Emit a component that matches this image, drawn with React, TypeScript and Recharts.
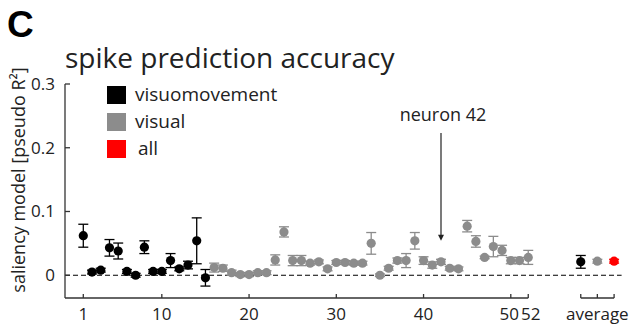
import { ScatterChart, Scatter, XAxis, YAxis, ErrorBar, ReferenceLine } from "recharts";

// visuomovement neurons 1-15
const vmMean = [0.062, 0.005, 0.008, 0.043, 0.038, 0.006, 0.0, 0.044, 0.006, 0.006, 0.023, 0.01, 0.016, 0.054, -0.004];
const vmErr = [0.018, 0.003, 0.003, 0.013, 0.0125, 0.003, 0.003, 0.01, 0.003, 0.003, 0.011, 0.003, 0.006, 0.036, 0.013];

// visual neurons 16-52
const visMean = [
  0.012, 0.011, 0.004, 0.001, 0.001, 0.004, 0.004, 0.024, 0.068, 0.023, 0.023, 0.019, 0.021, 0.01, 0.02, 0.02,
  0.019, 0.019, 0.05, 0.0, 0.011, 0.023, 0.023, 0.054, 0.023, 0.016, 0.021, 0.011, 0.01, 0.077, 0.053, 0.028,
  0.045, 0.039, 0.023, 0.023, 0.028,
];
const visErr = [
  0.007, 0.005, 0.004, 0.003, 0.003, 0.003, 0.003, 0.008, 0.008, 0.008, 0.008, 0.003, 0.003, 0.003, 0.003, 0.003,
  0.003, 0.003, 0.017, 0.002, 0.003, 0.004, 0.011, 0.013, 0.006, 0.005, 0.004, 0.003, 0.003, 0.009, 0.009, 0.002,
  0.016, 0.008, 0.005, 0.005, 0.011,
];

// averages: visuomovement, visual, all
const avgMean = [0.021, 0.022, 0.022];
const avgErr = [0.01, 0.003, 0.003];
const avgPos = [58.02, 59.92, 61.84];

const xTicks = [1, 10, 20, 30, 40, 50, 52];
const yTicks = [0, 0.1, 0.2, 0.3];

const X_MIN = -1.097;
const X_MAX = 63.09;
const Y_MIN = -0.0357;
const Y_MAX = 0.3;

const AXIS = "#333";
const GRAY = "#8c8c8c";
const RED = "#ff0000";
const FONT = "'Open Sans', sans-serif";

const vmData = vmMean.map((v, i) => ({ n: i + 1, v, err: vmErr[i] }));
const visData = visMean.map((v, i) => ({ n: i + 16, v, err: visErr[i] }));
const avgData = avgMean.map((v, i) => ({ n: avgPos[i], v, err: avgErr[i] }));

const dot = (fill: string) => (p: any) => <circle cx={p.cx} cy={p.cy} r={4.6} fill={fill} />;

function XTick({ x, y, payload }: any) {
  const v = payload.value;
  let label = "";
  if (xTicks.includes(v)) label = String(v);
  else if (v === avgPos[1]) label = "average";
  // 50 and 52 sit close together, nudge them apart a bit
  const dx = v === 50 ? -1.5 : v === 52 ? 2.5 : 0;
  return (
    <g>
      <line x1={x} x2={x} y1={y} y2={y - 4} stroke={AXIS} strokeWidth={1.3} />
      {label && (
        <text x={x + dx} y={y + 22} textAnchor="middle" fontSize={17} fontFamily={FONT} fill="#222">
          {label}
        </text>
      )}
    </g>
  );
}

function YTick({ x, y, payload }: any) {
  const v = payload.value;
  return (
    <g>
      <line x1={x} x2={x + 5} y1={y} y2={y} stroke={AXIS} strokeWidth={1.3} />
      <text x={x - 10} y={y + 6} textAnchor="end" fontSize={17} fontFamily={FONT} fill="#222">
        {v === 0 ? "0" : v.toFixed(1)}
      </text>
    </g>
  );
}

function Arrow(p: any) {
  const { x1, y1, x2, y2 } = p;
  return (
    <g>
      <text x={x1 + 2} y={y1 - 12} textAnchor="middle" fontSize={18} fontFamily={FONT} fill="#222">
        neuron 42
      </text>
      <line x1={x1} y1={y1} x2={x2} y2={y2 - 5} stroke="#222" strokeWidth={1.2} />
      <path d={`M${x2 - 3},${y2 - 6} L${x2 + 3},${y2 - 6} L${x2},${y2} Z`} fill="#222" />
    </g>
  );
}

const legend = [
  { label: "visuomovement", color: "#000", dx: 0 },
  { label: "visual", color: GRAY, dx: 0 },
  { label: "all", color: RED, dx: 3 },
];

export default function App() {
  return (
    <div style={{ position: "absolute", left: 0, top: 0, width: 638, height: 329, background: "#fff" }}>
      <ScatterChart width={638} height={329} margin={{ top: 84, right: 13, bottom: 0, left: 0 }}>
        <XAxis
          type="number"
          dataKey="n"
          domain={[X_MIN, X_MAX]}
          allowDataOverflow
          ticks={[...xTicks, ...avgPos]}
          interval={0}
          axisLine={false}
          tickLine={false}
          tickSize={0}
          tickMargin={0}
          height={31}
          tick={<XTick />}
        />
        <YAxis
          type="number"
          dataKey="v"
          domain={[Y_MIN, Y_MAX]}
          allowDataOverflow
          ticks={yTicks}
          interval={0}
          width={65}
          axisLine={{ stroke: AXIS, strokeWidth: 1.3 }}
          tickLine={false}
          tickSize={0}
          tickMargin={0}
          tick={<YTick />}
        />
        <ReferenceLine
          segment={[{ x: X_MIN, y: Y_MIN }, { x: 52, y: Y_MIN }]}
          stroke={AXIS}
          strokeWidth={1.3}
          ifOverflow="visible"
        />
        <ReferenceLine
          segment={[{ x: avgPos[0], y: Y_MIN }, { x: avgPos[2], y: Y_MIN }]}
          stroke={AXIS}
          strokeWidth={1.3}
          ifOverflow="visible"
        />
        <ReferenceLine
          segment={[{ x: X_MIN, y: 0 }, { x: 62.7, y: 0 }]}
          stroke="#000"
          strokeWidth={1.2}
          strokeDasharray="5 3"
          ifOverflow="visible"
        />
        <ReferenceLine
          segment={[{ x: 42, y: 0.223 }, { x: 42, y: 0.054 }]}
          shape={<Arrow />}
          ifOverflow="visible"
        />
        <Scatter data={vmData} shape={dot("#000")} isAnimationActive={false}>
          <ErrorBar dataKey="err" direction="y" width={5} stroke="#000" strokeWidth={1.3} />
        </Scatter>
        <Scatter data={visData} shape={dot(GRAY)} isAnimationActive={false}>
          <ErrorBar dataKey="err" direction="y" width={5} stroke={GRAY} strokeWidth={1.3} />
        </Scatter>
        <Scatter data={avgData.slice(0, 1)} shape={dot("#000")} isAnimationActive={false}>
          <ErrorBar dataKey="err" direction="y" width={5} stroke="#000" strokeWidth={1.3} />
        </Scatter>
        <Scatter data={avgData.slice(1, 2)} shape={dot(GRAY)} isAnimationActive={false}>
          <ErrorBar dataKey="err" direction="y" width={5} stroke={GRAY} strokeWidth={1.3} />
        </Scatter>
        <Scatter data={avgData.slice(2, 3)} shape={dot(RED)} isAnimationActive={false}>
          <ErrorBar dataKey="err" direction="y" width={5} stroke={RED} strokeWidth={1.3} />
        </Scatter>
      </ScatterChart>
      <svg width={638} height={329} style={{ position: "absolute", left: 0, top: 0, pointerEvents: "none" }}>
        <text x={7} y={37} fontSize={37} fontWeight="bold" fontFamily="'Liberation Sans', Arial, sans-serif" fill="#000">
          C
        </text>
        <text x={65} y={68} fontSize={28} fontFamily={FONT} fill="#222">
          spike prediction accuracy
        </text>
        <text
          x={25}
          y={180}
          transform="rotate(-90 25 180)"
          textAnchor="middle"
          fontSize={18}
          fontFamily={FONT}
          fill="#222"
        >
          saliency model [pseudo R²]
        </text>
        {legend.map((l, i) => (
          <g key={l.label}>
            <rect x={107} y={86 + i * 27} width={19} height={18} fill={l.color} />
            <text x={135 + l.dx} y={101 + i * 27} fontSize={19} fontFamily={FONT} fill="#222">
              {l.label}
            </text>
          </g>
        ))}
      </svg>
    </div>
  );
}
